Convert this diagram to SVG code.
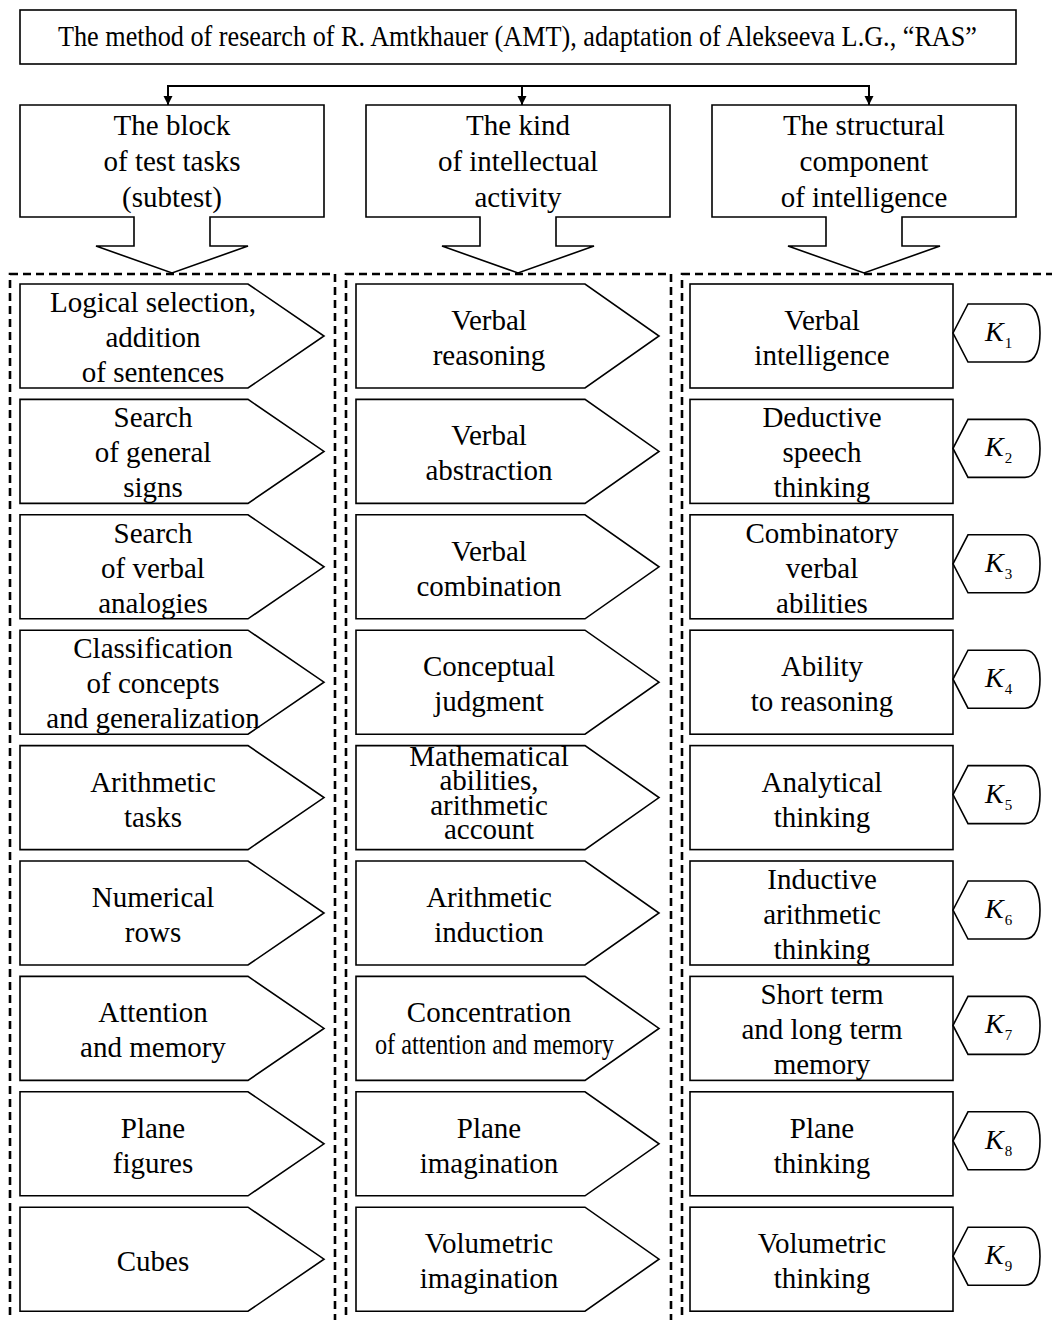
<svg xmlns="http://www.w3.org/2000/svg" width="1052" height="1320" viewBox="0 0 1052 1320">
<style>
text{font-family:"Liberation Serif","Times New Roman",serif;font-size:29px;fill:#000;text-anchor:middle}
.s{fill:#fff;stroke:#000;stroke-width:1.6}
.d{fill:none;stroke:#000;stroke-width:2.6;stroke-dasharray:8 5}
.c{fill:none;stroke:#000;stroke-width:2}
.k{font-style:italic;text-anchor:start;font-size:28px}
.sub{font-style:normal;font-size:15px}
</style>
<defs>
<marker id="ah" viewBox="0 0 10 10" refX="10" refY="5" markerWidth="4.5" markerHeight="5" orient="auto" markerUnits="strokeWidth">
<path d="M0,0 L10,5 L0,10 Z" fill="#000"/>
</marker>
<path id="kshape" d="M0,29 L15,0 L72,0 C83,0 87,14 87,29 C87,44 83,58 72,58 L15,58 Z" class="s"/>
</defs>
<rect width="1052" height="1320" fill="#fff"/>

<g id="frames">
<rect class="d" x="10" y="274" width="325" height="1060"/>
<rect class="d" x="346" y="274" width="325" height="1060"/>
<rect class="d" x="682" y="274" width="390" height="1060"/>
</g>

<g id="title">
<rect class="s" x="20" y="10" width="996" height="54"/>
<text x="517.5" y="46" textLength="919" lengthAdjust="spacingAndGlyphs">The method of research of R. Amtkhauer (AMT), adaptation of Alekseeva L.G., “RAS”</text>
</g>

<g id="connectors">
<line class="c" x1="168" y1="86" x2="869" y2="86"/>
<line class="c" x1="168" y1="85" x2="168" y2="105" marker-end="url(#ah)"/>
<line class="c" x1="522" y1="85" x2="522" y2="105" marker-end="url(#ah)"/>
<line class="c" x1="869" y1="85" x2="869" y2="105" marker-end="url(#ah)"/>
</g>

<g id="head1">
<path class="s" d="M20,105 H324 V217 H210 V246 H248 L172,273 L96,246 H134 V217 H20 Z"/>
<text x="172" y="135">The block</text><text x="172" y="171">of test tasks</text><text x="172" y="207">(subtest)</text>
</g>
<g id="head2">
<path class="s" d="M366,105 H670 V217 H556 V246 H594 L518,273 L442,246 H480 V217 H366 Z"/>
<text x="518" y="135">The kind</text><text x="518" y="171">of intellectual</text><text x="518" y="207">activity</text>
</g>
<g id="head3">
<path class="s" d="M712,105 H1016 V217 H902 V246 H940 L864,273 L788,246 H826 V217 H712 Z"/>
<text x="864" y="135">The structural</text><text x="864" y="171">component</text><text x="864" y="207">of intelligence</text>
</g>

<!-- Column 1 -->
<g id="c1r1"><path class="s" d="M20,284 H248 L324,336 L248,388 H20 Z"/><text x="153" y="312">Logical selection,</text><text x="153" y="347">addition</text><text x="153" y="382">of sentences</text></g>
<g id="c1r2"><path class="s" d="M20,399.4 H248 L324,451.4 L248,503.4 H20 Z"/><text x="153" y="427.4">Search</text><text x="153" y="462.4">of general</text><text x="153" y="497.4">signs</text></g>
<g id="c1r3"><path class="s" d="M20,514.8 H248 L324,566.8 L248,618.8 H20 Z"/><text x="153" y="542.8">Search</text><text x="153" y="577.8">of verbal</text><text x="153" y="612.8">analogies</text></g>
<g id="c1r4"><path class="s" d="M20,630.2 H248 L324,682.2 L248,734.2 H20 Z"/><text x="153" y="658.2">Classification</text><text x="153" y="693.2">of concepts</text><text x="153" y="728.2">and generalization</text></g>
<g id="c1r5"><path class="s" d="M20,745.6 H248 L324,797.6 L248,849.6 H20 Z"/><text x="153" y="791.6">Arithmetic</text><text x="153" y="826.6">tasks</text></g>
<g id="c1r6"><path class="s" d="M20,861 H248 L324,913 L248,965 H20 Z"/><text x="153" y="907">Numerical</text><text x="153" y="942">rows</text></g>
<g id="c1r7"><path class="s" d="M20,976.4 H248 L324,1028.4 L248,1080.4 H20 Z"/><text x="153" y="1022.4">Attention</text><text x="153" y="1057.4">and memory</text></g>
<g id="c1r8"><path class="s" d="M20,1091.8 H248 L324,1143.8 L248,1195.8 H20 Z"/><text x="153" y="1137.8">Plane</text><text x="153" y="1172.8">figures</text></g>
<g id="c1r9"><path class="s" d="M20,1207.2 H248 L324,1259.2 L248,1311.2 H20 Z"/><text x="153" y="1270.7">Cubes</text></g>

<!-- Column 2 -->
<g id="c2r1"><path class="s" d="M356,284 H585 L659,336 L585,388 H356 Z"/><text x="489" y="330">Verbal</text><text x="489" y="365">reasoning</text></g>
<g id="c2r2"><path class="s" d="M356,399.4 H585 L659,451.4 L585,503.4 H356 Z"/><text x="489" y="445.4">Verbal</text><text x="489" y="480.4">abstraction</text></g>
<g id="c2r3"><path class="s" d="M356,514.8 H585 L659,566.8 L585,618.8 H356 Z"/><text x="489" y="560.8">Verbal</text><text x="489" y="595.8">combination</text></g>
<g id="c2r4"><path class="s" d="M356,630.2 H585 L659,682.2 L585,734.2 H356 Z"/><text x="489" y="676.2">Conceptual</text><text x="489" y="711.2">judgment</text></g>
<g id="c2r5"><path class="s" d="M356,745.6 H585 L659,797.6 L585,849.6 H356 Z"/><text x="489" y="766.1">Mathematical</text><text x="489" y="790.1">abilities,</text><text x="489" y="814.6">arithmetic</text><text x="489" y="839.1">account</text></g>
<g id="c2r6"><path class="s" d="M356,861 H585 L659,913 L585,965 H356 Z"/><text x="489" y="907">Arithmetic</text><text x="489" y="942">induction</text></g>
<g id="c2r7"><path class="s" d="M356,976.4 H585 L659,1028.4 L585,1080.4 H356 Z"/><text x="489" y="1022.4">Concentration</text><text x="494.5" y="1054.4" textLength="239" lengthAdjust="spacingAndGlyphs">of attention and memory</text></g>
<g id="c2r8"><path class="s" d="M356,1091.8 H585 L659,1143.8 L585,1195.8 H356 Z"/><text x="489" y="1137.8">Plane</text><text x="489" y="1172.8">imagination</text></g>
<g id="c2r9"><path class="s" d="M356,1207.2 H585 L659,1259.2 L585,1311.2 H356 Z"/><text x="489" y="1253.2">Volumetric</text><text x="489" y="1288.2">imagination</text></g>

<!-- Column 3 -->
<g id="c3r1"><rect class="s" x="690" y="284" width="263" height="104"/><text x="822" y="330">Verbal</text><text x="822" y="365">intelligence</text></g>
<g id="c3r2"><rect class="s" x="690" y="399.4" width="263" height="104"/><text x="822" y="427.4">Deductive</text><text x="822" y="462.4">speech</text><text x="822" y="497.4">thinking</text></g>
<g id="c3r3"><rect class="s" x="690" y="514.8" width="263" height="104"/><text x="822" y="542.8">Combinatory</text><text x="822" y="577.8">verbal</text><text x="822" y="612.8">abilities</text></g>
<g id="c3r4"><rect class="s" x="690" y="630.2" width="263" height="104"/><text x="822" y="676.2">Ability</text><text x="822" y="711.2">to reasoning</text></g>
<g id="c3r5"><rect class="s" x="690" y="745.6" width="263" height="104"/><text x="822" y="791.6">Analytical</text><text x="822" y="826.6">thinking</text></g>
<g id="c3r6"><rect class="s" x="690" y="861" width="263" height="104"/><text x="822" y="889">Inductive</text><text x="822" y="924">arithmetic</text><text x="822" y="959">thinking</text></g>
<g id="c3r7"><rect class="s" x="690" y="976.4" width="263" height="104"/><text x="822" y="1004.4">Short term</text><text x="822" y="1039.4">and long term</text><text x="822" y="1074.4">memory</text></g>
<g id="c3r8"><rect class="s" x="690" y="1091.8" width="263" height="104"/><text x="822" y="1137.8">Plane</text><text x="822" y="1172.8">thinking</text></g>
<g id="c3r9"><rect class="s" x="690" y="1207.2" width="263" height="104"/><text x="822" y="1253.2">Volumetric</text><text x="822" y="1288.2">thinking</text></g>

<!-- K labels -->
<g id="k1"><use href="#kshape" x="953" y="304"/><text class="k" x="985" y="341">K<tspan class="sub" dx="1" dy="7">1</tspan></text></g>
<g id="k2"><use href="#kshape" x="953" y="419.4"/><text class="k" x="985" y="456.4">K<tspan class="sub" dx="1" dy="7">2</tspan></text></g>
<g id="k3"><use href="#kshape" x="953" y="534.8"/><text class="k" x="985" y="571.8">K<tspan class="sub" dx="1" dy="7">3</tspan></text></g>
<g id="k4"><use href="#kshape" x="953" y="650.2"/><text class="k" x="985" y="687.2">K<tspan class="sub" dx="1" dy="7">4</tspan></text></g>
<g id="k5"><use href="#kshape" x="953" y="765.6"/><text class="k" x="985" y="802.6">K<tspan class="sub" dx="1" dy="7">5</tspan></text></g>
<g id="k6"><use href="#kshape" x="953" y="881"/><text class="k" x="985" y="918">K<tspan class="sub" dx="1" dy="7">6</tspan></text></g>
<g id="k7"><use href="#kshape" x="953" y="996.4"/><text class="k" x="985" y="1033.4">K<tspan class="sub" dx="1" dy="7">7</tspan></text></g>
<g id="k8"><use href="#kshape" x="953" y="1111.8"/><text class="k" x="985" y="1148.8">K<tspan class="sub" dx="1" dy="7">8</tspan></text></g>
<g id="k9"><use href="#kshape" x="953" y="1227.2"/><text class="k" x="985" y="1264.2">K<tspan class="sub" dx="1" dy="7">9</tspan></text></g>
</svg>
